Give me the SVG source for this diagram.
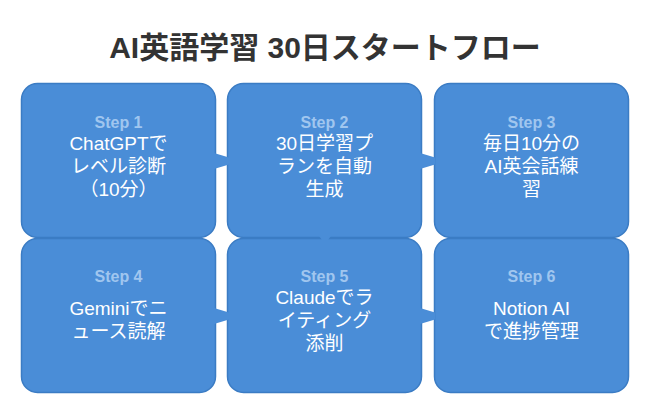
<svg xmlns="http://www.w3.org/2000/svg" width="650" height="415" viewBox="0 0 650 415">
  <style>
    .box { fill: #4a8dd7; stroke: #3b7cc4; stroke-width: 1.5; }
    .arrow { fill: #4a8dd7; stroke: none; }
    .title { font-family: "Liberation Sans", "Noto Sans CJK JP", sans-serif; font-size: 30px; font-weight: bold; fill: #333333; text-anchor: middle; }
    .step { font-family: "Liberation Sans", "Noto Sans CJK JP", sans-serif; font-size: 16px; font-weight: bold; fill: #a0c6ef; text-anchor: middle; }
    .label { font-family: "Liberation Sans", "Noto Sans CJK JP", sans-serif; font-size: 19px; fill: #ffffff; text-anchor: middle; }
  </style>
  <rect width="650" height="415" fill="#ffffff"/>
  <text class="title" x="325" y="58">AI英語学習 30日スタートフロー</text>

  <g id="node-step1">
    <rect class="box" x="21.5" y="83.5" width="194" height="154" rx="16"/>
    <text class="step" x="118.5" y="128">Step 1</text>
    <text class="label" x="118.5" y="150">ChatGPTで</text>
    <text class="label" x="118.5" y="173">レベル診断</text>
    <text class="label" x="118.5" y="196">（10分）</text>
  </g>
  <g id="node-step2">
    <rect class="box" x="227.5" y="83.5" width="194" height="154" rx="16"/>
    <text class="step" x="324.5" y="128">Step 2</text>
    <text class="label" x="324.5" y="150">30日学習プ</text>
    <text class="label" x="324.5" y="173">ランを自動</text>
    <text class="label" x="324.5" y="196">生成</text>
  </g>
  <g id="node-step3">
    <rect class="box" x="434.5" y="83.5" width="194" height="154" rx="16"/>
    <text class="step" x="531.5" y="128">Step 3</text>
    <text class="label" x="531.5" y="150">毎日10分の</text>
    <text class="label" x="531.5" y="173">AI英会話練</text>
    <text class="label" x="531.5" y="196">習</text>
  </g>
  <g id="node-step4">
    <rect class="box" x="21.5" y="238.5" width="194" height="154" rx="16"/>
    <text class="step" x="118.5" y="282">Step 4</text>
    <text class="label" x="118.5" y="315">Geminiでニ</text>
    <text class="label" x="118.5" y="338">ュース読解</text>
  </g>
  <g id="node-step5">
    <rect class="box" x="227.5" y="238.5" width="194" height="154" rx="16"/>
    <text class="step" x="324.5" y="282">Step 5</text>
    <text class="label" x="324.5" y="304">Claudeでラ</text>
    <text class="label" x="324.5" y="327">イティング</text>
    <text class="label" x="324.5" y="350">添削</text>
  </g>
  <g id="node-step6">
    <rect class="box" x="434.5" y="238.5" width="194" height="154" rx="16"/>
    <text class="step" x="531.5" y="282">Step 6</text>
    <text class="label" x="531.5" y="315">Notion AI</text>
    <text class="label" x="531.5" y="338">で進捗管理</text>
  </g>

  <g id="connectors">
    <polygon class="arrow" points="214,153 229,157.5 229,164.5 214,169"/>
    <polygon class="arrow" points="420,153 435,157.5 435,164.5 420,169"/>
    <polygon class="arrow" points="214,308 229,312.5 229,319.5 214,324"/>
    <polygon class="arrow" points="420,308 435,312.5 435,319.5 420,324"/>
    <polygon class="arrow" points="319,236 331,236 328,240 322,240"/>
  </g>
</svg>
